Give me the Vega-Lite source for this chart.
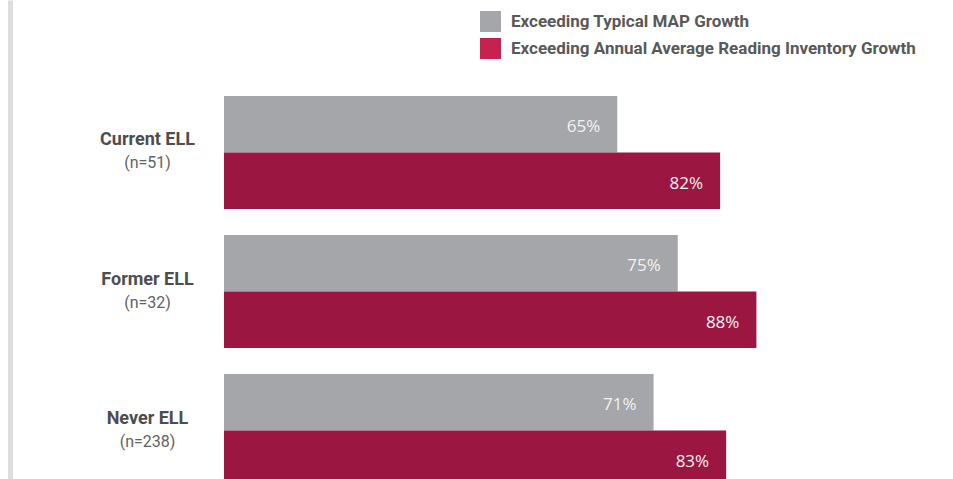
{
  "$schema": "https://vega.github.io/schema/vega-lite/v6.json",
  "width": 605,
  "height": 383,
  "autosize": {"type": "none"},
  "padding": {"left": 224, "top": 96, "right": 124, "bottom": 0},
  "background": "white",
  "config": {"view": {"stroke": null}},
  "data": {
    "values": [
      {"group": "Current ELL", "n": "(n=51)", "series": "Exceeding Typical MAP Growth", "value": 65},
      {"group": "Current ELL", "n": "(n=51)", "series": "Exceeding Annual Average Reading Inventory Growth", "value": 82},
      {"group": "Former ELL", "n": "(n=32)", "series": "Exceeding Typical MAP Growth", "value": 75},
      {"group": "Former ELL", "n": "(n=32)", "series": "Exceeding Annual Average Reading Inventory Growth", "value": 88},
      {"group": "Never ELL", "n": "(n=238)", "series": "Exceeding Typical MAP Growth", "value": 71},
      {"group": "Never ELL", "n": "(n=238)", "series": "Exceeding Annual Average Reading Inventory Growth", "value": 83}
    ]
  },
  "transform": [
    {"calculate": "datum.group + '|' + datum.n", "as": "cat"},
    {"calculate": "datum.value + '%'", "as": "pct"}
  ],
  "encoding": {
    "x": {"field": "value", "type": "quantitative", "scale": {"domain": [0, 100]}, "axis": null},
    "yOffset": {"field": "series", "type": "nominal", "sort": null, "scale": {"paddingInner": 0, "paddingOuter": 0}}
  },
  "layer": [
    {
      "mark": {"type": "bar"},
      "encoding": {
        "y": {
          "field": "cat", "type": "nominal", "sort": null,
          "scale": {"range": [-96, 487], "paddingInner": 0.187, "paddingOuter": 0.6906},
          "axis": {
            "orient": "left", "title": null, "domain": false, "ticks": false, "tickSize": 0,
            "labelPadding": 77, "labelAlign": "center", "labelBaseline": "middle", "labelOffset": -12,
            "labelFont": "Roboto", "labelFontWeight": "bold", "labelFontSize": 18,
            "labelColor": "#4d4d4f", "labelLimit": 300,
            "labelExpr": "split(datum.value, '|')[0]"
          }
        },
        "fill": {
          "field": "series", "type": "nominal",
          "scale": {
            "domain": ["Exceeding Typical MAP Growth", "Exceeding Annual Average Reading Inventory Growth"],
            "range": ["#a5a6a9", "#9c1642"]
          },
          "legend": null
        }
      }
    },
    {
      "mark": {"type": "square", "opacity": 0.001},
      "encoding": {
        "y": {
          "field": "cat", "type": "nominal", "sort": null,
          "scale": {"range": [-96, 487], "paddingInner": 0.187, "paddingOuter": 0.6906},
          "axis": null
        },
        "color": {
          "field": "series", "type": "nominal",
          "scale": {
            "domain": ["Exceeding Typical MAP Growth", "Exceeding Annual Average Reading Inventory Growth"],
            "range": ["#a5a6a9", "#c5224f"]
          },
          "legend": {
            "orient": "none", "legendX": 256, "legendY": -85, "title": null,
            "symbolType": "square", "symbolSize": 441, "symbolStrokeWidth": 0, "symbolOpacity": 1,
            "labelFont": "Roboto", "labelFontWeight": "bold", "labelFontSize": 17,
            "labelColor": "#58595b", "labelOffset": 10, "rowPadding": 6, "labelLimit": 600
          }
        }
      }
    },
    {
      "mark": {"type": "text", "align": "right", "baseline": "middle", "dx": -17, "dy": 3, "font": "Open Sans", "fontSize": 17, "color": "#f2f2f2"},
      "encoding": {
        "y": {
          "field": "cat", "type": "nominal", "sort": null,
          "scale": {"range": [-96, 487], "paddingInner": 0.187, "paddingOuter": 0.6906},
          "axis": {
            "orient": "left", "title": null, "offset": 214,
            "domain": true, "domainColor": "#dcdddf", "domainWidth": 5,
            "ticks": false, "tickSize": 0,
            "labelPadding": -137, "labelAlign": "center", "labelBaseline": "middle", "labelOffset": 11,
            "labelFont": "Roboto", "labelFontSize": 16, "labelColor": "#616264", "labelLimit": 300,
            "labelExpr": "split(datum.value, '|')[1]"
          }
        },
        "text": {"field": "pct", "type": "nominal"}
      }
    }
  ],
  "resolve": {"axis": {"y": "independent"}, "legend": {"color": "independent", "fill": "independent"}}
}
